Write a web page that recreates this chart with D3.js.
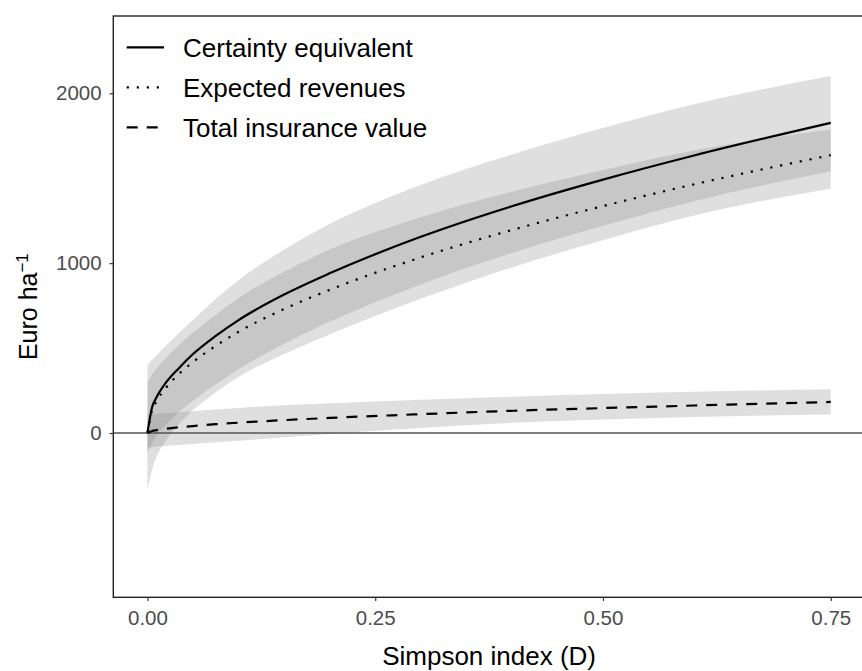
<!DOCTYPE html>
<html>
<head>
<meta charset="utf-8">
<script src="https://cdn.jsdelivr.net/npm/d3@7"></script>
<style>
  html, body { margin: 0; padding: 0; background: #fff; }
  svg { display: block; font-family: "Liberation Sans", Arial, sans-serif; }
</style>
</head>
<body>
<svg id="chart" width="862" height="671"></svg>
<script>
// Simpson index (D) sample points
const simpson = [0, 0.005, 0.01, 0.02, 0.035, 0.05, 0.075, 0.1, 0.15, 0.2, 0.3, 0.4, 0.5, 0.6, 0.75];

// Certainty equivalent (Euro/ha) with its uncertainty band
const certainty     = [0, 150, 210, 295, 385, 465, 572, 665, 815, 940, 1155, 1335, 1492, 1634, 1826];
const certaintyLow  = [-120, -60, -15, 50, 125, 190, 285, 375, 525, 655, 875, 1060, 1220, 1365, 1541];
const certaintyHigh = [400, 430, 458, 512, 590, 665, 790, 900, 1080, 1230, 1460, 1640, 1795, 1935, 2102];

// Expected revenues (Euro/ha) with its uncertainty band
const expected      = [0, 132, 187, 264, 350, 418, 513, 596, 730, 843, 1034, 1195, 1336, 1464, 1636];
const expectedLow   = [-340, -215, -140, -45, 55, 135, 240, 330, 465, 580, 790, 975, 1135, 1280, 1440];
const expectedHigh  = [300, 345, 380, 440, 520, 590, 695, 795, 950, 1080, 1270, 1420, 1548, 1663, 1787];

// Total insurance value (Euro/ha) with its uncertainty band
const insurance     = [0, 12, 17, 25, 34, 41, 52, 61, 76, 89, 111, 131, 147, 162, 183];
const insuranceLow  = [-85, -83, -80, -76, -70, -64, -54, -45, -25, -5, 30, 60, 80, 95, 109];
const insuranceHigh = [110, 112, 114, 117, 122, 128, 138, 148, 163, 175, 196, 214, 230, 243, 258];

// Axis ticks
const xTicks = [0, 0.25, 0.5, 0.75];
const yTicks = [0, 1000, 2000];

// Legend entries
const legendLabels = ["Certainty equivalent", "Expected revenues", "Total insurance value"];
const legendDash   = ["none", "2.2,7.8", "11,9"];

const svg = d3.select("#chart");

const panel = { left: 113.3, top: 16, right: 864.9, bottom: 597.3 };

const x = d3.scaleLinear().domain([-0.0375, 0.7875]).range([panel.left, panel.right]);
const y = d3.scaleLinear().domain([-967, 2455]).range([panel.bottom, panel.top]);

svg.append("defs").append("clipPath").attr("id", "panel-clip")
  .append("rect")
  .attr("x", panel.left).attr("y", panel.top)
  .attr("width", panel.right - panel.left).attr("height", panel.bottom - panel.top);

const plot = svg.append("g").attr("clip-path", "url(#panel-clip)");

const rows = (mid, lo, hi) => simpson.map((d, i) => ({ x: d, mid: mid[i], lo: lo[i], hi: hi[i] }));
const series = [
  rows(certainty, certaintyLow, certaintyHigh),
  rows(expected, expectedLow, expectedHigh),
  rows(insurance, insuranceLow, insuranceHigh)
];

const band = d3.area()
  .x(d => x(d.x)).y0(d => y(d.lo)).y1(d => y(d.hi))
  .curve(d3.curveMonotoneX);

const line = d3.line()
  .x(d => x(d.x)).y(d => y(d.mid))
  .curve(d3.curveMonotoneX);

// Uncertainty bands: translucent grey, overlaps darken
plot.selectAll("path.band").data(series).join("path")
  .attr("class", "band")
  .attr("d", band)
  .attr("fill", "#7f7f7f")
  .attr("fill-opacity", 0.25);

// Zero reference line
plot.append("line")
  .attr("x1", panel.left).attr("x2", panel.right)
  .attr("y1", y(0)).attr("y2", y(0))
  .attr("stroke", "#555").attr("stroke-width", 1.5);

// Mean curves
plot.selectAll("path.curve").data(series).join("path")
  .attr("class", "curve")
  .attr("d", line)
  .attr("fill", "none")
  .attr("stroke", "#000")
  .attr("stroke-width", 2.2)
  .attr("stroke-dasharray", (d, i) => legendDash[i]);

// Panel border
svg.append("rect")
  .attr("x", panel.left).attr("y", panel.top)
  .attr("width", panel.right - panel.left).attr("height", panel.bottom - panel.top)
  .attr("fill", "none").attr("stroke", "#222").attr("stroke-width", 1.4);

// Axes
const xAxis = d3.axisBottom(x).tickValues(xTicks).tickFormat(d3.format(".2f"))
  .tickSize(3.7).tickPadding(9);
const yAxis = d3.axisLeft(y).tickValues(yTicks).tickFormat(d3.format("d"))
  .tickSize(3.7).tickPadding(8);

const gx = svg.append("g").attr("transform", `translate(0,${panel.bottom})`).call(xAxis);
const gy = svg.append("g").attr("transform", `translate(${panel.left},0)`).call(yAxis);

[gx, gy].forEach(g => {
  g.select(".domain").remove();
  g.selectAll(".tick line").attr("stroke", "#333").attr("stroke-width", 1.2);
  g.selectAll(".tick text")
    .attr("fill", "#4d4d4d")
    .style("font-size", "20.5px")
    .style("font-family", "'Liberation Sans', Arial, sans-serif");
});
gx.selectAll(".tick text").attr("dy", "0.71em");

// Axis titles
svg.append("text")
  .attr("x", (panel.left + panel.right) / 2)
  .attr("y", 665)
  .attr("text-anchor", "middle")
  .style("font-size", "26px")
  .attr("fill", "#000")
  .text("Simpson index (D)");

const yTitle = svg.append("text")
  .attr("transform", `translate(36.5,${(panel.top + panel.bottom) / 2}) rotate(-90)`)
  .attr("text-anchor", "middle")
  .style("font-size", "25px")
  .attr("fill", "#000");
yTitle.append("tspan").text("Euro ha");
yTitle.append("tspan").attr("dy", "-0.5em").style("font-size", "17px").text("−1");

// Legend
const legend = svg.append("g");
legendLabels.forEach((label, i) => {
  const cy = 47.3 + i * 40;
  legend.append("line")
    .attr("x1", 126.7).attr("x2", 164)
    .attr("y1", cy).attr("y2", cy)
    .attr("stroke", "#000").attr("stroke-width", 2.2)
    .attr("stroke-dasharray", legendDash[i]);
  legend.append("text")
    .attr("x", 183)
    .attr("y", cy)
    .attr("dy", "0.36em")
    .style("font-size", "26px")
    .attr("fill", "#000")
    .text(label);
});
</script>
</body>
</html>
